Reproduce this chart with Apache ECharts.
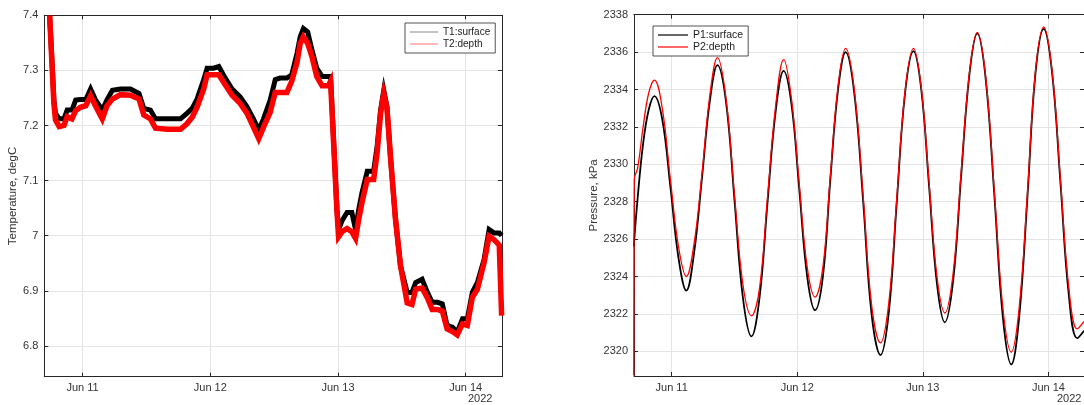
<!DOCTYPE html>
<html>
<head>
<meta charset="utf-8">
<script src="https://cdn.jsdelivr.net/npm/echarts@6/dist/echarts.min.js"></script>
<style>
  html, body { margin: 0; padding: 0; background: #fff; }
  #main { width: 1084px; height: 405px; }
</style>
</head>
<body>
<div id="main"></div>
<script>
// hours since Jun 10 00:00
var xTicks = [24, 48, 72, 96];
var xTickLabels = ['Jun 11', 'Jun 12', 'Jun 13', 'Jun 14'];
var tTicks = [6.8, 6.9, 7.0, 7.1, 7.2, 7.3, 7.4];
var tTickLabels = ['6.8', '6.9', '7', '7.1', '7.2', '7.3', '7.4'];
var pTicks = [2320, 2322, 2324, 2326, 2328, 2330, 2332, 2334, 2336, 2338];
var pTickLabels = ['2320', '2322', '2324', '2326', '2328', '2330', '2332', '2334', '2336', '2338'];

// temperature (degC)
var tHours = [17.8, 18.3, 18.6, 18.9, 19.6, 20.5, 21.1, 22.0, 22.7, 23.6, 24.6, 25.5, 26.4, 27.7, 28.6, 29.6,
  31.1, 33.0, 34.6, 35.5, 36.75, 37.7, 39.9, 42.4, 43.6, 44.6, 45.5, 46.75, 47.4, 48.6, 49.6, 50.8,
  52.1, 53.6, 54.9, 56.1, 57.1, 58.0, 59.25, 60.2, 61.1, 62.4, 63.3, 64.3, 64.9, 65.5, 66.3, 67.1,
  68.0, 69.0, 70.2, 70.6, 71.8, 72.1, 72.75, 73.7, 74.6, 75.3, 75.9, 76.5, 77.5, 78.7, 79.35, 80.0,
  80.6, 81.2, 81.9, 82.8, 83.75, 85.0, 85.9, 86.6, 87.8, 88.8, 89.7, 90.7, 91.6, 92.5, 93.5, 94.4,
  95.4, 96.3, 97.25, 98.2, 99.45, 100.4, 101.3, 102.3, 102.75];
var t1 = [7.40, 7.307, 7.246, 7.222, 7.212, 7.212, 7.228, 7.228, 7.246, 7.247, 7.247, 7.266, 7.247, 7.228, 7.247, 7.264,
  7.266, 7.266, 7.258, 7.231, 7.228, 7.212, 7.212, 7.212, 7.222, 7.231, 7.248, 7.283, 7.304, 7.304, 7.307, 7.286,
  7.266, 7.252, 7.234, 7.212, 7.192, 7.212, 7.246, 7.283, 7.286, 7.286, 7.292, 7.331, 7.361, 7.376, 7.37, 7.337,
  7.304, 7.289, 7.289, 7.289, 7.048, 7.011, 7.027, 7.042, 7.042, 7.011, 7.048, 7.078, 7.117, 7.117, 7.162, 7.228,
  7.264, 7.234, 7.138, 7.03, 6.945, 6.897, 6.897, 6.915, 6.921, 6.897, 6.879, 6.879, 6.876, 6.837, 6.834, 6.825,
  6.849, 6.849, 6.897, 6.915, 6.957, 7.011, 7.005, 7.005, 7.0];
var t2 = [7.40, 7.30, 7.24, 7.21, 7.198, 7.2, 7.216, 7.212, 7.227, 7.233, 7.236, 7.254, 7.236, 7.212, 7.236, 7.248,
  7.256, 7.255, 7.248, 7.219, 7.212, 7.195, 7.193, 7.193, 7.203, 7.215, 7.233, 7.266, 7.292, 7.292, 7.292, 7.274,
  7.255, 7.24, 7.222, 7.197, 7.176, 7.197, 7.224, 7.26, 7.26, 7.26, 7.28, 7.315, 7.349, 7.361, 7.349, 7.325,
  7.289, 7.272, 7.272, 7.28, 7.045, 6.998, 7.007, 7.013, 7.007, 6.995, 7.03, 7.06, 7.102, 7.102, 7.15, 7.222,
  7.258, 7.231, 7.138, 7.03, 6.945, 6.878, 6.875, 6.903, 6.905, 6.887, 6.866, 6.866, 6.863, 6.831, 6.826, 6.82,
  6.84, 6.837, 6.888, 6.903, 6.951, 6.999, 6.993, 6.983, 6.855];

// pressure (kPa)
var p1Hours = [16.75, 17.5, 18.5, 19.6, 20.7, 22.2, 23.75, 25.3, 26.8, 28.3, 29.8, 31.3, 32.75, 34.4, 36.0, 37.6,
  39.25, 40.8, 42.3, 43.9, 45.4, 46.9, 48.4, 49.9, 51.4, 52.9, 54.3, 55.8, 57.25, 58.9, 60.6, 62.2,
  63.9, 65.5, 67.0, 68.6, 70.2, 71.7, 73.2, 74.7, 76.2, 77.8, 79.3, 80.9, 82.4, 84.0, 85.7, 87.3,
  88.9, 90.4, 92.0, 93.5, 95.1, 96.7, 98.3, 99.9, 101.5, 102.8];
var p1 = [2325.6, 2328.2, 2331.0, 2332.9, 2333.65, 2332.4, 2328.8, 2325.0, 2323.25, 2325.3, 2329.3, 2333.4, 2335.3, 2333.3, 2328.1, 2322.9,
  2320.8, 2322.9, 2327.9, 2332.9, 2335.0, 2333.2, 2328.6, 2324.0, 2322.2, 2324.0, 2329.1, 2334.0, 2336.0, 2333.8, 2328.0, 2322.0,
  2319.8, 2322.1, 2327.9, 2333.8, 2336.05, 2334.0, 2328.8, 2323.6, 2321.55, 2323.8, 2329.3, 2334.8, 2337.0, 2334.6, 2328.2, 2321.8,
  2319.3, 2321.8, 2328.3, 2334.8, 2337.25, 2334.9, 2329.0, 2323.0, 2320.7, 2321.1];
var p2Hours = [16.75, 16.85, 17.5, 18.5, 19.6, 20.7, 22.2, 23.75, 25.3, 26.8, 28.3, 29.8, 31.3, 32.75, 34.4, 36.0, 37.6,
  39.25, 40.8, 42.3, 43.9, 45.4, 46.9, 48.4, 49.9, 51.4, 52.9, 54.3, 55.8, 57.25, 58.9, 60.6, 62.2,
  63.9, 65.5, 67.0, 68.6, 70.2, 71.7, 73.2, 74.7, 76.2, 77.8, 79.3, 80.9, 82.4, 84.0, 85.7, 87.3,
  88.9, 90.4, 92.0, 93.5, 95.1, 96.7, 98.3, 99.9, 101.5, 102.8];
var p2 = [2318.7, 2329.2, 2329.8, 2331.9, 2333.8, 2334.5, 2333.0, 2329.2, 2325.6, 2324.0, 2325.8, 2329.5, 2333.7, 2335.7, 2333.5, 2328.4, 2323.6,
  2321.9, 2323.4, 2328.2, 2333.2, 2335.6, 2333.5, 2328.9, 2324.5, 2322.9, 2324.5, 2329.3, 2334.2, 2336.2, 2334.0, 2328.3, 2322.5,
  2320.45, 2322.6, 2328.1, 2333.9, 2336.2, 2334.1, 2329.0, 2324.0, 2322.05, 2324.2, 2329.5, 2334.9, 2337.05, 2334.7, 2328.4, 2322.3,
  2319.95, 2322.3, 2328.5, 2334.9, 2337.35, 2335.0, 2329.2, 2323.4, 2321.2, 2321.6];

function pairs(xs, ys) {
  return ys.map(function (v, i) { return [xs[i], v]; });
}

var FONT = 'Liberation Sans, Arial, Helvetica, sans-serif';
var AX = '#262626';
var GRIDC = '#e4e4e4';

function xAx(gridIndex, top) {
  return {
    type: 'value', gridIndex: gridIndex, position: top ? 'top' : 'bottom',
    min: 16.8, max: 102.8,
    axisLine: { show: true, onZero: false, lineStyle: { color: AX, width: 1 } },
    axisTick: { show: true, inside: true, length: 4, customValues: xTicks, lineStyle: { color: AX } },
    axisLabel: {
      show: !top, margin: 6, color: '#333', fontSize: 11, fontFamily: FONT,
      customValues: xTicks,
      formatter: function (v) { return xTickLabels[xTicks.indexOf(v)]; }
    },
    splitLine: { show: !top, lineStyle: { color: GRIDC, width: 1 } }
  };
}

function yAx(gridIndex, right, min, max, ticks, labels, name, gap) {
  return {
    type: 'value', gridIndex: gridIndex, position: right ? 'right' : 'left',
    min: min, max: max,
    name: right ? '' : name, nameLocation: 'middle', nameGap: gap,
    nameTextStyle: { color: '#333', fontSize: 11.5, fontFamily: FONT },
    axisLine: { show: true, onZero: false, lineStyle: { color: AX, width: 1 } },
    axisTick: { show: true, inside: true, length: 4, customValues: ticks, lineStyle: { color: AX } },
    axisLabel: {
      show: !right, margin: 6, color: '#333', fontSize: 11, fontFamily: FONT,
      customValues: ticks,
      formatter: function (v) {
        for (var i = 0; i < ticks.length; i++) { if (Math.abs(ticks[i] - v) < 1e-6) return labels[i]; }
        return '';
      }
    },
    splitLine: { show: !right, lineStyle: { color: GRIDC, width: 1 } }
  };
}

var myChart = echarts.init(document.getElementById('main'), null, { renderer: 'canvas' });

var option = {
  animation: false,
  backgroundColor: '#fff',
  grid: [
    { left: 44.3, top: 15.3, right: 582.1, bottom: 28.3 },
    { left: 634, top: 14.7, right: -6.9, bottom: 29 }
  ],
  xAxis: [xAx(0, false), xAx(0, true), xAx(1, false), xAx(1, true)],
  yAxis: [
    yAx(0, false, 6.744, 7.4, tTicks, tTickLabels, 'Temperature, degC', 16),
    yAx(0, true, 6.744, 7.4, tTicks, tTickLabels, '', 0),
    yAx(1, false, 2318.68, 2338, pTicks, pTickLabels, 'Pressure, kPa', 26),
    yAx(1, true, 2318.68, 2338, pTicks, pTickLabels, '', 0)
  ],
  legend: [
    {
      left: 405, top: 23, orient: 'vertical', itemGap: 0, itemWidth: 28, itemHeight: 1,
      icon: 'rect', padding: [3, 5, 3, 5], borderColor: '#262626', borderWidth: 0.8, backgroundColor: '#fff',
      textStyle: { fontSize: 10, fontFamily: FONT, color: '#222', lineHeight: 12 },
      data: [
        { name: 'T1:surface', itemStyle: { color: '#888' } },
        { name: 'T2:depth', itemStyle: { color: '#ff7070' } }
      ]
    },
    {
      left: 653, top: 26, orient: 'vertical', itemGap: 0, itemWidth: 30, itemHeight: 1.2,
      icon: 'rect', padding: [3, 5, 3, 5], borderColor: '#262626', borderWidth: 0.8, backgroundColor: '#fff',
      textStyle: { fontSize: 10.5, fontFamily: FONT, color: '#222', lineHeight: 12 },
      data: [
        { name: 'P1:surface', itemStyle: { color: '#000' } },
        { name: 'P2:depth', itemStyle: { color: '#ff0000' } }
      ]
    }
  ],
  graphic: [
    { type: 'text', left: 468, top: 393, style: { text: '2022', fontSize: 11, fontFamily: FONT, fill: '#333' } },
    { type: 'text', left: 1057, top: 393, style: { text: '2022', fontSize: 11, fontFamily: FONT, fill: '#333' } }
  ],
  series: [
    {
      name: 'T1:surface', type: 'line', xAxisIndex: 0, yAxisIndex: 0, showSymbol: false,
      data: pairs(tHours, t1), lineStyle: { color: '#000', width: 5, join: 'miter' }, itemStyle: { color: '#000' }, z: 2
    },
    {
      name: 'T2:depth', type: 'line', xAxisIndex: 0, yAxisIndex: 0, showSymbol: false,
      data: pairs(tHours, t2), lineStyle: { color: '#ff0000', width: 5.5, join: 'miter' }, itemStyle: { color: '#ff0000' }, z: 3
    },
    {
      name: 'P1:surface', type: 'line', xAxisIndex: 2, yAxisIndex: 2, showSymbol: false, smooth: 0.4,
      data: pairs(p1Hours, p1), lineStyle: { color: '#000', width: 1.8 }, itemStyle: { color: '#000' }, z: 2
    },
    {
      name: 'P2:depth', type: 'line', xAxisIndex: 2, yAxisIndex: 2, showSymbol: false, smooth: 0.4,
      data: pairs(p2Hours, p2), lineStyle: { color: '#ff0000', width: 1.3 }, itemStyle: { color: '#ff0000' }, z: 3
    }
  ]
};

myChart.setOption(option);
</script>
</body>
</html>
